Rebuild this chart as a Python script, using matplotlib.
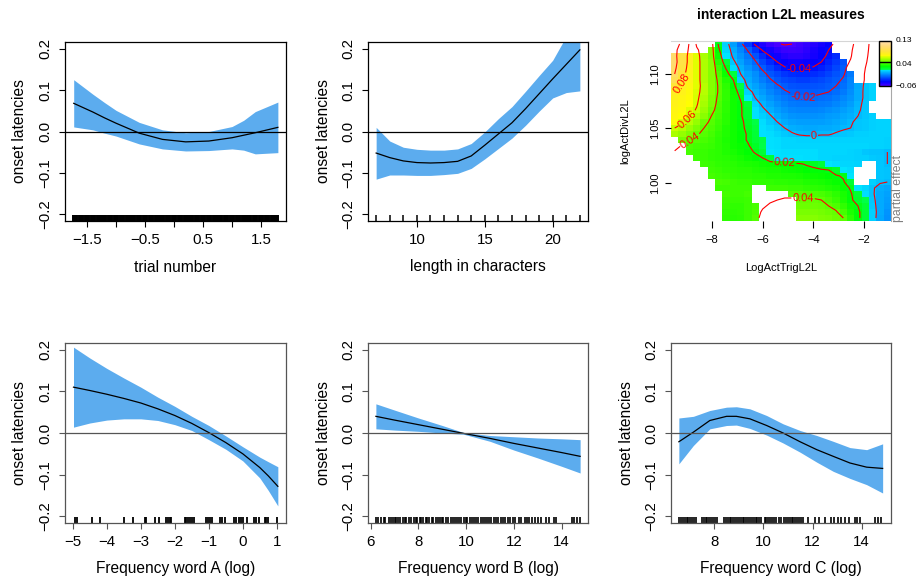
import colorsys
import numpy as np
import matplotlib
matplotlib.use('Agg')
import matplotlib.pyplot as plt
from matplotlib.colors import ListedColormap

plt.rcParams['font.family'] = ['Liberation Sans', 'DejaVu Sans']
plt.rcParams['contour.negative_linestyle'] = 'solid'

W, H = 921, 584
BAND = '#5CACEE'

# smooth of trial number (fit and confidence band)
trial_x = [-1.73, -1.4, -1.2, -1.0, -0.6, -0.2, 0.2, 0.6, 1.0, 1.2, 1.4, 1.79]
trial_fit = [0.068, 0.047, 0.033, 0.020, -0.004, -0.019, -0.025, -0.023, -0.015, -0.009, -0.003, 0.010]
trial_hi = [0.125, 0.090, 0.070, 0.051, 0.022, 0.004, -0.003, 0.000, 0.012, 0.027, 0.048, 0.071]
trial_lo = [0.011, 0.004, -0.004, -0.011, -0.030, -0.042, -0.047, -0.046, -0.042, -0.045, -0.054, -0.051]
trial_rug = [-1.70, -1.60, -1.50, -1.40, -1.30, -1.20, -1.10, -1.00, -0.90, -0.80,
             -0.70, -0.60, -0.50, -0.40, -0.30, -0.20, -0.10, 0.00, 0.10, 0.20,
             0.30, 0.40, 0.50, 0.60, 0.70, 0.80, 0.90, 1.00, 1.10, 1.20,
             1.30, 1.40, 1.50, 1.60, 1.70, 1.75]

# word length
len_x = [7, 8, 9, 10, 11, 12, 13, 14, 15, 16, 17, 18, 19, 20, 21, 22]
len_fit = [-0.052, -0.063, -0.071, -0.075, -0.076, -0.075, -0.072, -0.059,
           -0.033, -0.006, 0.021, 0.055, 0.091, 0.127, 0.162, 0.197]
len_hi = [0.010, -0.023, -0.038, -0.043, -0.045, -0.045, -0.042, -0.029,
          -0.001, 0.031, 0.060, 0.097, 0.135, 0.172, 0.230, 0.296]
len_lo = [-0.115, -0.105, -0.105, -0.106, -0.106, -0.104, -0.101, -0.089,
          -0.066, -0.041, -0.016, 0.015, 0.049, 0.081, 0.094, 0.098]
len_rug = [7, 8, 9, 10, 11, 12, 13, 14, 15, 16, 17, 18, 19, 20, 21, 22]

# frequency word A
a_x = [-4.98, -4.5, -4.0, -3.5, -3.0, -2.5, -2.0, -1.5, -1.0, -0.5, 0.0, 0.5, 0.75, 1.03]
a_fit = [0.110, 0.102, 0.093, 0.083, 0.072, 0.058, 0.042, 0.023, 0.001, -0.023, -0.050, -0.083, -0.103, -0.128]
a_hi = [0.206, 0.180, 0.155, 0.132, 0.110, 0.086, 0.064, 0.040, 0.018, -0.007, -0.033, -0.058, -0.069, -0.081]
a_lo = [0.014, 0.024, 0.031, 0.034, 0.034, 0.030, 0.020, 0.006, -0.016, -0.039, -0.067, -0.108, -0.138, -0.175]
a_rug = [-4.95, -4.88, -4.43, -4.21, -3.50, -3.23, -2.88, -2.84, -2.59, -2.47,
         -2.25, -2.20, -2.15, -2.10, -1.71, -1.66, -1.61, -1.55, -1.49, -1.44,
         -1.07, -1.03, -0.98, -0.91, -0.66, -0.61, -0.53, -0.25, -0.19, -0.12,
         -0.05, 0.01, 0.11, 0.32, 0.39, 0.49, 0.64, 0.69, 0.74, 1.01]

# frequency word B
b_x = [6.22, 7.0, 8.0, 9.0, 9.9, 11.0, 12.0, 13.0, 14.0, 14.77]
b_fit = [0.040, 0.031, 0.020, 0.009, -0.001, -0.013, -0.025, -0.036, -0.047, -0.056]
b_hi = [0.070, 0.055, 0.036, 0.018, 0.001, -0.006, -0.009, -0.012, -0.014, -0.016]
b_lo = [0.010, 0.007, 0.004, 0.000, -0.003, -0.020, -0.041, -0.060, -0.080, -0.096]
b_rug = [6.22, 6.30, 6.45, 6.55, 6.62, 6.75, 6.85, 6.92, 7.00, 7.08, 7.15, 7.25,
         7.35, 7.42, 7.50, 7.60, 7.70, 7.80, 7.88, 7.95, 8.05, 8.12, 8.20, 8.30,
         8.38, 8.45, 8.55, 8.62, 8.72, 8.80, 8.90, 9.00, 9.05, 9.15, 9.25, 9.35,
         9.45, 9.52, 9.60, 9.70, 9.80, 9.90, 9.98, 10.05, 10.15, 10.25, 10.32,
         10.42, 10.50, 10.60, 10.70, 10.78, 10.88, 10.95, 11.05, 11.15, 11.25,
         11.32, 11.45, 11.55, 11.62, 11.75, 11.85, 11.95, 12.05, 12.20, 12.30,
         12.45, 12.55, 12.65, 12.75, 12.90, 13.00, 13.13, 13.36, 13.46, 13.66,
         13.75, 14.41, 14.51, 14.66, 14.76]

# frequency word C
c_x = [6.56, 7.15, 7.82, 8.5, 8.9, 9.45, 10.13, 10.8, 11.49, 12.17, 12.84, 13.52, 14.2, 14.85]
c_fit = [-0.021, 0.002, 0.030, 0.040, 0.040, 0.034, 0.018, 0.000, -0.021, -0.040,
         -0.056, -0.072, -0.082, -0.085]
c_hi = [0.036, 0.040, 0.054, 0.062, 0.063, 0.058, 0.042, 0.022, 0.006, -0.006,
        -0.020, -0.035, -0.040, -0.026]
c_lo = [-0.074, -0.030, 0.010, 0.018, 0.019, 0.011, -0.005, -0.024, -0.046, -0.070,
        -0.092, -0.109, -0.124, -0.144]
c_rug = [6.57, 6.65, 6.72, 6.80, 6.88, 6.95, 7.02, 7.10, 7.18, 7.25, 7.50, 7.58,
         7.65, 7.72, 7.80, 7.88, 7.95, 8.02, 8.10, 8.40, 8.48, 8.55, 8.62, 8.70,
         8.78, 8.85, 8.92, 9.00, 9.08, 9.15, 9.22, 9.30, 9.38, 9.45, 9.52, 9.60,
         9.68, 9.75, 9.82, 9.90, 10.05, 10.12, 10.20, 10.28, 10.35, 10.42, 10.50,
         10.65, 10.72, 10.85, 10.92, 11.00, 11.08, 11.15, 11.22, 11.30, 11.38,
         11.45, 11.52, 11.60, 11.81, 12.08, 12.28, 12.49, 12.76, 12.89, 13.03,
         13.16, 13.33, 13.50, 13.71, 13.81, 13.91, 14.52, 14.65, 14.79]

# L2L interaction surface, partial effect x 1000; rows from top (high logActDivL2L)
l2l_rows = [
    [110, 95, 79, 58, 52, 45, 18, 4, -7, -17, -30, -42, -49, -55, -59, -61, -60, -57, -54, -51, -47, -43, -38, -31, -24, -14, -4, 4, 6, 8],
    [105, 90, 78, 62, 54, 46, 22, 6, -4, -12, -21, -31, -41, -47, -52, -55, -56, -55, -52, -48, -44, -40, -34, -28, -22, -13, -3, 4, 6, 7],
    [104, 90, 76, 64, 54, 46, 26, 9, -2, -9, -16, -24, -33, -40, -46, -50, -52, -52, -50, -47, -43, -38, -33, -27, -21, -12, -2, 4, 6, 7],
    [105, 90, 76, 64, 55, 47, 30, 13, 2, -6, -13, -19, -27, -34, -40, -44, -46, -46, -45, -43, -40, -35, -30, -24, -19, -10, -1, 4, 6, 7],
    [103, 88, 75, 64, 55, 47, 34, 19, 7, -3, -9, -15, -22, -28, -34, -39, -41, -42, -41, -39, -36, -32, -27, -22, -17, -9, 0, 5, 6, 7],
    [100, 85, 74, 64, 55, 47, 36, 25, 12, 0, -6, -11, -17, -23, -27, -31, -33, -34, -34, -33, -31, -28, -24, -21, -15, -7, 1, 5, 6, 7],
    [95, 83, 73, 64, 55, 47, 38, 29, 20, 5, -4, -9, -14, -19, -23, -26, -28, -29, -29, -28, -26, -24, -22, -19, -13, -6, 1, 5, 6, 7],
    [85, 78, 71, 64, 56, 47, 39, 31, 23, 11, -2, -6, -11, -15, -19, -22, -24, -25, -25, -24, -23, -22, -20, -17, -12, -5, 2, 5, 6, 6],
    [78, 74, 69, 63, 56, 47, 39, 32, 25, 16, 4, -3, -8, -12, -16, -19, -21, -22, -22, -22, -21, -20, -18, -15, -11, -4, 2, 5, 6, 6],
    [75, 71, 67, 62, 55, 46, 38, 32, 26, 19, 9, 0, -5, -9, -13, -16, -18, -19, -20, -19, -18, -17, -15, -12, -9, -4, 2, 5, 6, 6],
    [74, 70, 66, 61, 53, 45, 37, 31, 26, 21, 13, 5, -2, -6, -10, -13, -15, -16, -16, -16, -15, -14, -12, -10, -7, -2, 2, 5, 6, 6],
    [72, 68, 64, 59, 51, 43, 36, 31, 26, 21, 15, 8, 2, -3, -7, -10, -12, -13, -13, -13, -12, -11, -9, -7, -5, -1, 2, 4, 5, 5],
    [70, 66, 62, 55, 48, 40, 35, 30, 26, 21, 15, 8, 4, 1, -4, -7, -9, -10, -10, -10, -9, -8, -7, -5, -3, 0, 2, 4, 5, 5],
    [67, 62, 56, 50, 43, 38, 34, 30, 26, 22, 17, 11, 7, 3, 0, -4, -6, -7, -7, -7, -7, -6, -5, -3, -1, 2, 3, 4, 5, 5],
    [60, 56, 51, 46, 40, 37, 33, 29, 26, 22, 18, 12, 8, 6, 3, 0, -3, -4, -5, -5, -4, -4, -3, -1, 0, 2, 3, 4, 5, 5],
    [54, 50, 46, 41, 38, 35, 32, 29, 26, 23, 19, 13, 8, 7, 5, 3, 1, -1, -2, -2, -1, -1, 1, 2, 3, 4, 4, 5, 5, 5],
    [47, 44, 41, 38, 36, 34, 31, 28, 26, 23, 19, 14, 11, 8, 7, 6, 6, 5, 5, 5, 5, 5, 5, 5, 5, 5, 5, 5, 5, 4],
    [44, 39, 37, 35, 34, 33, 31, 29, 26, 24, 21, 16, 10, 8, 7, 6, 6, 6, 6, 6, 6, 6, 6, 6, 6, 6, 6, 5, 5, 4],
    [39, 37, 35, 34, 33, 32, 31, 29, 27, 25, 23, 19, 13, 9, 8, 7, 7, 7, 7, 7, 6, 6, 6, 6, 5, 4, 2, 1, 1, 0],
    [37, 36, 35, 34, 33, 32, 31, 30, 29, 27, 25, 23, 20, 13, 8, 8, 8, 8, 7, 7, 6, 6, 5, 5, 5, 4, 4, 3, 2, 0],
    [36, 36, 35, 35, 34, 33, 32, 31, 30, 29, 28, 27, 26, 25, 24, 23, 22, 21, 19, 17, 13, 9, 7, 6, 6, 5, 4, 3, 2, 0],
    [36, 36, 35, 35, 35, 34, 33, 32, 31, 30, 30, 29, 28, 27, 27, 26, 25, 24, 23, 22, 21, 20, 15, 9, 7, 6, 5, 4, 2, 1],
    [36, 36, 36, 36, 36, 35, 34, 33, 32, 31, 31, 30, 30, 29, 29, 28, 28, 27, 26, 25, 24, 23, 21, 19, 9, 7, 6, 4, 2, 1],
    [37, 37, 37, 37, 37, 37, 36, 35, 34, 33, 33, 32, 32, 32, 31, 31, 30, 30, 29, 28, 27, 26, 24, 21, 14, 8, 6, 4, 1, 0],
    [34, 34, 34, 34, 34, 34, 34, 34, 34, 34, 34, 34, 34, 34, 34, 34, 33, 33, 32, 31, 30, 29, 27, 24, 19, 9, 6, 1, -3, -5],
    [35, 35, 35, 35, 35, 35, 35, 35, 34, 34, 35, 36, 36, 37, 37, 38, 38, 38, 37, 37, 36, 34, 31, 27, 21, 14, 7, 1, -4, -6],
    [35, 35, 35, 35, 35, 35, 35, 34, 33, 33, 34, 36, 38, 39, 40, 41, 41, 41, 41, 41, 40, 37, 33, 28, 22, 15, 10, 2, -4, -7],
    [35, 35, 35, 35, 35, 35, 34, 33, 32, 32, 34, 36, 39, 41, 42, 43, 43, 43, 43, 43, 42, 40, 37, 32, 26, 20, 14, 3, -4, -8],
    [35, 35, 35, 35, 35, 35, 34, 32, 31, 32, 34, 37, 41, 43, 44, 45, 45, 45, 45, 45, 44, 43, 41, 35, 28, 22, 14, 4, -4, -9],
    [35, 35, 35, 35, 35, 35, 33, 31, 30, 31, 34, 38, 42, 44, 46, 47, 47, 47, 47, 47, 46, 45, 43, 40, 31, 22, 14, 4, -5, -10],
]
# grid cells left empty (too far from the observations), '#' = empty
l2l_blank = [
    '#' * 6 + '.' * 16 + '#' * 8,
    '#' * 5 + '.' * 17 + '#' * 8,
    '.' * 23 + '#' * 7,
    '.' * 24 + '#' * 6,
    '.' * 24 + '#' * 6,
    '.' * 25 + '#' * 5,
    '.' * 25 + '#' * 5,
    '.' * 28 + '#' * 2,
    '.' * 28 + '#' * 2,
    '.' * 28 + '#' * 2,
    '.' * 27 + '#' * 3,
    '.' * 27 + '#' * 3,
    '.' * 28 + '#' * 2,
    '.' * 30,
    '.' * 30,
    '.' * 30,
    '#' * 1 + '.' * 29,
    '#' * 2 + '.' * 28,
    '#' * 2 + '.' * 28,
    '#' * 3 + '.' * 27,
    '#' * 4 + '.' * 22 + '#' * 2 + '.' * 2,
    '#' * 5 + '.' * 20 + '#' * 3 + '.' * 2,
    '#' * 5 + '.' * 20 + '#' * 3 + '.' * 2,
    '#' * 6 + '.' * 19 + '#' * 2 + '.' * 3,
    '#' * 6 + '.' * 5 + '#' * 2 + '.' * 17,
    '#' * 7 + '.' * 4 + '#' * 5 + '.' * 14,
    '#' * 7 + '.' * 4 + '#' * 6 + '.' * 13,
    '#' * 7 + '.' * 5 + '#' * 5 + '.' * 13,
    '#' * 7 + '.' * 5 + '#' * 5 + '.' * 13,
    '#' * 7 + '.' * 5 + '#' * 5 + '.' * 13,
]
trig_lim = (-9.62, -0.93)
div_lim = (0.965, 1.1304)
zlim = (-0.06, 0.13)
levels = [-0.06, -0.04, -0.02, 0.0, 0.02, 0.04, 0.06, 0.08, 0.10]


def rect(x0, y0, x1, y1):
    return [x0 / W, 1 - y1 / H, (x1 - x0) / W, (y1 - y0) / H]


def minus(s):
    return s.replace('-', '\u2212')


def topo(n=256, s1=0.363, s2=0.658):
    # R's topo.colors: blue -> cyan | green -> yellow-green | yellow -> peach
    cols = []
    for t in np.linspace(0, 1, n):
        if t < s1:
            f = t / s1
            cols.append(colorsys.hsv_to_rgb((43 - 12 * f) / 60, 1, 1))
        elif t < s2:
            f = (t - s1) / (s2 - s1)
            cols.append(colorsys.hsv_to_rgb((23 - 12 * f) / 60, 1, 1))
        else:
            f = (t - s2) / (1 - s2)
            cols.append(colorsys.hsv_to_rgb((10 - 4 * f) / 60, 1 - 0.7 * f, 1))
    return ListedColormap(cols)


def smooth_panel(box, x, fit, lo, hi, rug, xlim, xticks, xticklabels, xlabel,
                 frame='black', rug_lw=1.0):
    ax = fig.add_axes(rect(*box))
    wpx, hpx = box[2] - box[0], box[3] - box[1]
    ax.fill_between(x, lo, hi, color=BAND, lw=0)
    ax.plot(x, fit, color='black', lw=0.9)
    ax.axhline(0, color=frame, lw=0.9)
    ax.vlines(rug, 0, 0.034, transform=ax.get_xaxis_transform(), color='black', lw=rug_lw)
    ax.set_xlim(xlim)
    ax.set_ylim(-0.216, 0.216)
    ax.set_xticks(xticks)
    ax.set_xticklabels([minus(t) for t in xticklabels])
    ax.set_yticks([-0.2, -0.1, 0.0, 0.1, 0.2])
    ax.set_yticklabels([minus(t) for t in ['-0.2', '-0.1', '0.0', '0.1', '0.2']],
                       rotation=90, va='center')
    for s in ax.spines.values():
        s.set_color(frame)
        s.set_linewidth(0.9)
    ax.tick_params(direction='out', length=4, width=0.8, color=frame,
                   labelsize=10.8, pad=5)
    ax.text(-45 / wpx, 0.5, 'onset latencies', rotation=90, transform=ax.transAxes,
            ha='center', va='center', fontsize=11.2)
    ax.text(0.5, -46 / hpx, xlabel, transform=ax.transAxes,
            ha='center', va='center', fontsize=11.2)
    return ax


fig = plt.figure(figsize=(W / 100, H / 100), dpi=100)

smooth_panel((65, 42, 286, 221), trial_x, trial_fit, trial_lo, trial_hi, trial_rug,
             (-1.88, 1.93), [-1.5, -1, -0.5, 0, 0.5, 1, 1.5],
             ['-1.5', '', '-0.5', '', '0.5', '', '1.5'], 'trial number', rug_lw=4.3)
smooth_panel((368, 42, 588, 221), len_x, len_fit, len_lo, len_hi, len_rug,
             (6.4, 22.6), [10, 15, 20], ['10', '15', '20'], 'length in characters',
             rug_lw=1.1)

grey = '#555555'
smooth_panel((65, 343, 286, 523), a_x, a_fit, a_lo, a_hi, a_rug,
             (-5.23, 1.27), [-5, -4, -3, -2, -1, 0, 1],
             ['-5', '-4', '-3', '-2', '-1', '0', '1'], 'Frequency word A (log)',
             frame=grey, rug_lw=1.3)
smooth_panel((368, 343, 588, 523), b_x, b_fit, b_lo, b_hi, b_rug,
             (5.89, 15.1), [6, 8, 10, 12, 14], ['6', '8', '10', '12', '14'],
             'Frequency word B (log)', frame=grey, rug_lw=1.2)
smooth_panel((671, 343, 891, 523), c_x, c_fit, c_lo, c_hi, c_rug,
             (6.24, 15.19), [8, 10, 12, 14], ['8', '10', '12', '14'],
             'Frequency word C (log)', frame=grey, rug_lw=1.2)

# interaction surface
ax = fig.add_axes(rect(671, 41, 891, 221))
z = np.array(l2l_rows[::-1]) / 1000.0
blank = np.array([[ch == '#' for ch in row] for row in l2l_blank[::-1]])
xe = np.linspace(trig_lim[0], trig_lim[1], 31)
ye = np.linspace(div_lim[0], div_lim[1], 31)
xc = (xe[:-1] + xe[1:]) / 2
yc = (ye[:-1] + ye[1:]) / 2
cmap = topo()
mesh = ax.pcolormesh(xe, ye, np.ma.masked_array(z, blank), cmap=cmap,
                     vmin=zlim[0], vmax=zlim[1], shading='flat',
                     antialiased=False, linewidth=0)
cs = ax.contour(xc, yc, z, levels=levels, colors='red', linewidths=0.8)


def at(c, r):
    # grid position (column from left, row from top) in data units
    dx = (trig_lim[1] - trig_lim[0]) / 30
    dy = (div_lim[1] - div_lim[0]) / 30
    return (trig_lim[0] + (c + 0.5) * dx, div_lim[1] - (r + 0.5) * dy)


ax.clabel(cs, fmt=lambda v: '%g' % v, fontsize=8, inline=True, inline_spacing=1,
          manual=[at(17, 3.9), at(17.5, 8.9), at(19, 15.3), at(15, 19.7),
                  at(17.5, 25.9), at(1.6, 12.3), at(1.3, 6.8), at(2.2, 16.3)])
ax.set_xlim(trig_lim)
ax.set_ylim(div_lim)
ax.set_xticks([-8, -6, -4, -2])
ax.set_xticklabels([minus(t) for t in ['-8', '-6', '-4', '-2']])
ax.set_yticks([1.00, 1.05, 1.10])
ax.set_yticklabels(['1.00', '1.05', '1.10'], rotation=90, va='center')
ax.tick_params(direction='out', length=5, width=0.8, labelsize=8, pad=5)
ax.tick_params(axis='y', length=4, pad=4)
ax.spines['left'].set_visible(False)
ax.spines['bottom'].set_visible(False)
ax.spines['top'].set_color('#D5D5D5')
ax.spines['right'].set_color('#A8A8A8')
ax.spines['top'].set_linewidth(0.8)
ax.spines['right'].set_linewidth(0.8)
fig.text(781 / W, 1 - 15 / H, 'interaction L2L measures', ha='center', va='center',
         fontsize=10, fontweight='bold')
fig.text(781 / W, 1 - 268 / H, 'LogActTrigL2L', ha='center', va='center', fontsize=8)
fig.text(625 / W, 1 - 131 / H, 'logActDivL2L', ha='center', va='center',
         rotation=90, fontsize=8)
fig.text(898 / W, 1 - 222 / H, 'partial effect', ha='center', va='bottom',
         rotation=90, fontsize=8.8, color='#7F7F7F')

cax = fig.add_axes(rect(879, 41, 891, 86))
cb = fig.colorbar(mesh, cax=cax)
cb.set_ticks([])
cb.outline.set_linewidth(1.0)
cax.axhline(0.04, color='black', lw=1.0)
for txt, ypx in [('0.13', 41), ('0.04', 64), ('-0.06', 86)]:
    fig.text(896 / W, 1 - ypx / H, minus(txt), ha='left', va='center', fontsize=6)

fig.savefig('out.png', dpi=100, facecolor='white')
